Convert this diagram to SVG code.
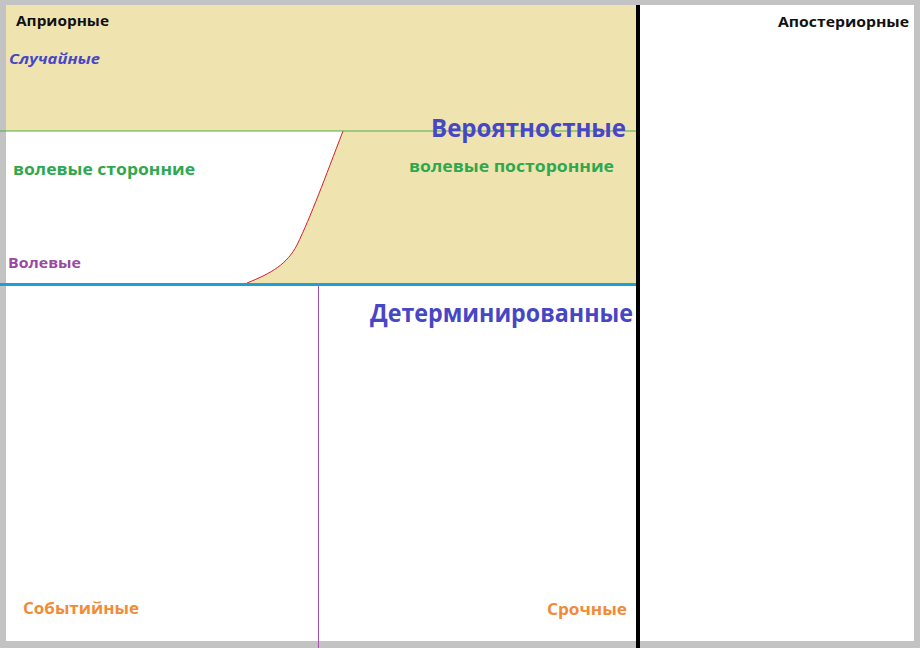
<svg xmlns="http://www.w3.org/2000/svg" width="920" height="648" viewBox="0 0 920 648">
<style>
text{font-family:"Open Sans","Noto Sans","DejaVu Sans",sans-serif;font-weight:700}
.blk{fill:#111}
.blu{fill:#4747c6}
.grn{fill:#2ea84e}
.org{fill:#f28a36}
</style>
<rect x="0" y="0" width="920" height="648" fill="#ffffff"/>
<path d="M6,5 H637 V283 H247 C272,273 287,264 297,245 C311,216 325,178 343,131 H6 Z" fill="#efe4b0"/>
<path d="M247,283 C272,273 287,264 297,245 C311,216 325,178 343,131" fill="none" stroke="#d0202a" stroke-width="1"/>
<g fill="#c3c3c3">
<rect x="0" y="0" width="920" height="5"/>
<rect x="0" y="0" width="6" height="648"/>
<rect x="914" y="0" width="6" height="648"/>
<rect x="0" y="641" width="920" height="7"/>
</g>
<line x1="0" y1="131" x2="637" y2="131" stroke="#48b048" stroke-width="1"/>
<line x1="0" y1="284.5" x2="637" y2="284.5" stroke="#1ba1d6" stroke-width="3"/>
<line x1="318.5" y1="286" x2="318.5" y2="648" stroke="#a050a8" stroke-width="1"/>
<rect x="636" y="5" width="4" height="643" fill="#000"/>
<text x="16" y="26" font-size="15" class="blk" textLength="93" lengthAdjust="spacingAndGlyphs">Априорные</text>
<text x="9" y="64" font-size="15" class="blu" font-style="italic" textLength="91" lengthAdjust="spacingAndGlyphs">Случайные</text>
<text x="431" y="137" font-size="25" class="blu" textLength="195" lengthAdjust="spacingAndGlyphs">Вероятностные</text>
<text x="409" y="172" font-size="16" class="grn" textLength="205" lengthAdjust="spacingAndGlyphs">волевые посторонние</text>
<text x="13" y="175" font-size="16" class="grn" textLength="182" lengthAdjust="spacingAndGlyphs">волевые сторонние</text>
<text x="8" y="268" font-size="15" fill="#9a4aa0" textLength="73" lengthAdjust="spacingAndGlyphs">Волевые</text>
<text x="370" y="322" font-size="25" class="blu" textLength="263" lengthAdjust="spacingAndGlyphs">Детерминированные</text>
<text x="23" y="614" font-size="16" class="org" textLength="116" lengthAdjust="spacingAndGlyphs">Событийные</text>
<text x="547" y="615" font-size="16" class="org" textLength="80" lengthAdjust="spacingAndGlyphs">Срочные</text>
<text x="778" y="27" font-size="15" class="blk" textLength="131" lengthAdjust="spacingAndGlyphs">Апостериорные</text>
</svg>
